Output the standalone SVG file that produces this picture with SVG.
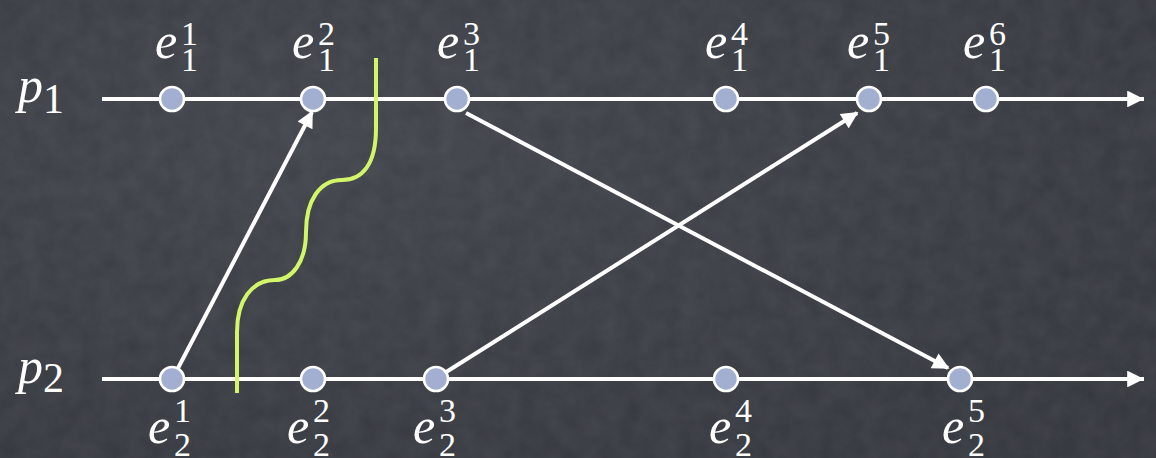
<svg xmlns="http://www.w3.org/2000/svg" width="1156" height="458" viewBox="0 0 1156 458">
<style>
.tl{stroke:#fff;stroke-width:4;fill:none}
.msg{stroke:#fff;stroke-width:4;fill:none;marker-end:url(#ah)}
.ev{fill:#a2afd0;stroke:#fff;stroke-width:2.6}
text{font-family:"Times New Roman","Liberation Serif","DejaVu Serif",serif;fill:#fff}
.e{font-style:italic;font-size:50px}
.d{font-style:normal;font-size:34px}
.pd{font-style:normal;font-size:42px}
.cut{stroke:#d2f56a;stroke-width:4;fill:none}
</style>
<defs>
<marker id="ah" viewBox="0 0 10 10" refX="9" refY="5" markerWidth="5" markerHeight="4.2" orient="auto" markerUnits="strokeWidth">
<path d="M0,0 L10,5 L0,10 z" fill="#fff"/>
</marker>
<marker id="ta" viewBox="0 0 10 10" refX="10" refY="5" markerWidth="4.6" markerHeight="4.2" orient="auto" markerUnits="strokeWidth">
<path d="M0,0 L10,5 L0,10 z" fill="#fff"/>
</marker>
<radialGradient id="bg" cx="0.3" cy="0.3" r="0.9">
<stop offset="0" stop-color="#40434a"/>
<stop offset="1" stop-color="#33363c"/>
</radialGradient>
<filter id="noise" x="0" y="0" width="100%" height="100%">
<feTurbulence type="fractalNoise" baseFrequency="0.05" numOctaves="3" seed="4"/>
<feColorMatrix type="matrix" values="0 0 0 0 1  0 0 0 0 1  0 0 0 0 1  0 0 0 0.07 0"/>
</filter>
</defs>
<rect width="1156" height="458" fill="url(#bg)"/>
<rect width="1156" height="458" filter="url(#noise)"/>

<g id="timelines">
<g id="p1">
<line class="tl" x1="102" y1="99" x2="1144" y2="99" marker-end="url(#ta)"/>
<text x="18" y="102" class="e" font-family="Liberation Serif">p<tspan class="pd" y="113">1</tspan></text>
</g>
<g id="p2">
<line class="tl" x1="102" y1="379" x2="1144" y2="379" marker-end="url(#ta)"/>
<text x="18" y="383" class="e" font-family="Liberation Serif">p<tspan class="pd" y="392">2</tspan></text>
</g>
</g>

<g id="connectors">
<line class="msg" x1="176" y1="372" x2="312" y2="112"/>
<line class="msg" x1="466" y1="113" x2="948" y2="368"/>
<line class="msg" x1="443" y1="374" x2="857" y2="113"/>
</g>

<g id="cut">
<path class="cut" d="M376,58 V128 C376,165 362,180 342,180 C320,180 306,200 306,232 C306,262 292,280 275,280 C252,280 237,300 237,332 V393"/>
</g>

<g id="e1_1"><circle class="ev" cx="172" cy="99" r="12"/><text class="e" x="155" y="58">e<tspan class="d" x="181" y="45">1</tspan><tspan class="d" x="181" y="71">1</tspan></text></g>
<g id="e1_2"><circle class="ev" cx="313" cy="99" r="12"/><text class="e" x="292" y="58">e<tspan class="d" x="318" y="45">2</tspan><tspan class="d" x="318" y="71">1</tspan></text></g>
<g id="e1_3"><circle class="ev" cx="457" cy="99" r="12"/><text class="e" x="437" y="58">e<tspan class="d" x="463" y="45">3</tspan><tspan class="d" x="463" y="71">1</tspan></text></g>
<g id="e1_4"><circle class="ev" cx="726" cy="99" r="12"/><text class="e" x="705" y="58">e<tspan class="d" x="731" y="45">4</tspan><tspan class="d" x="731" y="71">1</tspan></text></g>
<g id="e1_5"><circle class="ev" cx="869" cy="99" r="12"/><text class="e" x="847" y="58">e<tspan class="d" x="873" y="45">5</tspan><tspan class="d" x="873" y="71">1</tspan></text></g>
<g id="e1_6"><circle class="ev" cx="986" cy="99" r="12"/><text class="e" x="963" y="58">e<tspan class="d" x="989" y="45">6</tspan><tspan class="d" x="989" y="71">1</tspan></text></g>

<g id="e2_1"><circle class="ev" cx="172" cy="379" r="12"/><text class="e" x="148" y="443">e<tspan class="d" x="174" y="422">1</tspan><tspan class="d" x="174" y="456">2</tspan></text></g>
<g id="e2_2"><circle class="ev" cx="313" cy="379" r="12"/><text class="e" x="287" y="443">e<tspan class="d" x="313" y="422">2</tspan><tspan class="d" x="313" y="456">2</tspan></text></g>
<g id="e2_3"><circle class="ev" cx="436" cy="379" r="12"/><text class="e" x="413" y="443">e<tspan class="d" x="439" y="422">3</tspan><tspan class="d" x="439" y="456">2</tspan></text></g>
<g id="e2_4"><circle class="ev" cx="726" cy="379" r="12"/><text class="e" x="709" y="443">e<tspan class="d" x="735" y="422">4</tspan><tspan class="d" x="735" y="456">2</tspan></text></g>
<g id="e2_5"><circle class="ev" cx="960" cy="379" r="12"/><text class="e" x="942" y="443">e<tspan class="d" x="968" y="422">5</tspan><tspan class="d" x="968" y="456">2</tspan></text></g>
</svg>
